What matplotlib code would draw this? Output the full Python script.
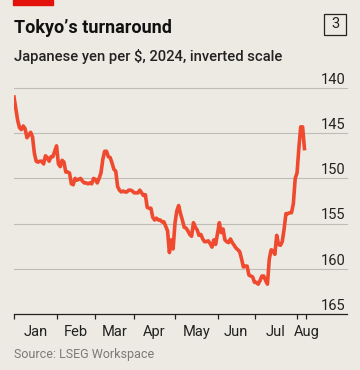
import matplotlib
matplotlib.use("Agg")
import matplotlib.pyplot as plt
from matplotlib.patches import Rectangle
import numpy as np
import pandas as pd

# Yen per dollar, business-day closes
jan = [141.0, 142.3, 143.6, 144.4, 144.6, 144.2, 144.5, 145.5, 145.2, 144.9,
       145.4, 147.2, 148.1, 148.2, 148.1, 148.1, 148.4, 147.5, 147.7, 148.1,
       147.6, 147.6, 147.0]
feb = [146.4, 148.4, 148.7, 148.0, 148.2, 149.3, 149.3, 149.4, 150.6, 150.7,
       150.0, 150.2, 150.1, 150.0, 150.3, 150.5, 150.5, 150.6, 150.5, 150.6,
       150.0]
mar = [150.1, 150.5, 150.0, 149.4, 147.9, 147.0, 147.0, 147.6, 147.7, 148.3,
       149.0, 149.2, 150.9, 151.3, 151.5, 151.4, 151.5, 151.5, 151.3, 151.3,
       151.4]
apr = [151.6, 151.6, 151.6, 151.3, 151.6, 151.9, 151.8, 153.2, 153.3, 153.3,
       154.3, 154.6, 154.4, 154.6, 154.6, 154.8, 154.8, 155.3, 155.8, 158.2,
       156.8, 157.8]
may = [155.0, 153.6, 153.0, 153.9, 154.6, 155.4, 155.5, 155.8, 156.2, 156.4,
       154.9, 155.4, 155.7, 156.3, 156.2, 156.7, 157.0, 157.0, 156.9, 157.2,
       157.6, 156.8, 157.3]
jun = [156.1, 154.9, 156.0, 155.6, 156.8, 157.0, 157.1, 156.7, 157.1, 157.4,
       157.7, 157.9, 158.1, 158.9, 159.8, 159.7, 159.7, 160.7, 160.8, 160.9]
jul = [161.5, 161.5, 161.7, 161.3, 160.8, 160.8, 161.3, 161.7, 158.9, 157.9,
       158.0, 158.4, 156.3, 157.3, 157.4, 157.0, 155.6, 153.9, 153.9, 153.8,
       153.8, 152.8, 150.0]
aug = [149.4, 146.6, 144.3, 144.3, 146.7]

yen = jan + feb + mar + apr + may + jun + jul + aug
dates = pd.bdate_range("2024-01-01", "2024-08-07")
months = ["Jan", "Feb", "Mar", "Apr", "May", "Jun", "Jul", "Aug"]
y_ticks = [140, 145, 150, 155, 160, 165]

BG = "#ECEAE2"
RED = "#EF4A2F"

plt.rcParams["font.family"] = ["Roboto", "DejaVu Sans"]

fig = plt.figure(figsize=(3.6, 3.7), dpi=100, facecolor=BG)
ax = fig.add_axes([14 / 360, 1 - 314 / 370, 333 / 360, 226 / 370])
ax.set_facecolor(BG)

x = np.arange(len(dates))
ax.plot(x, yen, color=RED, lw=2.6, solid_joinstyle="round", zorder=3)

ax.set_xlim(0, 180)
ax.set_ylim(165, 140)

# gridlines + labels sitting on them
for v in y_ticks[:-1]:
    ax.axhline(v, color="#BEBDB5", lw=0.8, zorder=1, clip_on=False)
for v in y_ticks:
    ax.annotate(str(v), xy=(1, v), xycoords=("axes fraction", "data"),
                xytext=(-1, 3), textcoords="offset points",
                ha="right", va="baseline", fontsize=10.5, color="#222222")

# month boundaries as ticks, names centred between them
starts = [0] + [i for i in range(1, len(dates)) if dates[i].month != dates[i - 1].month]
ends = starts[1:] + [len(dates)]
ax.set_xticks(starts + [len(dates)])
ax.set_xticklabels([])
ax.set_yticks([])
ax.tick_params(axis="x", direction="out", length=3.5, width=0.9, color="#222222")
for name, s, e in zip(months, starts, ends):
    pos = (s + e) / 2 if name != "Aug" else e
    ax.text(pos, -0.097, name, transform=ax.get_xaxis_transform(),
            ha="center", va="baseline", fontsize=10.5, color="#222222")

for side in ["top", "left", "right"]:
    ax.spines[side].set_visible(False)
ax.spines["bottom"].set_color("#222222")
ax.spines["bottom"].set_linewidth(0.9)

# header
fig.patches.append(Rectangle((13 / 360, 1 - 5 / 370), 40 / 360, 5 / 370,
                             transform=fig.transFigure, color="#E3120B"))
fig.text(14 / 360, 1 - 33 / 370, "Tokyo\u2019s turnaround", fontsize=13,
         fontweight="bold", color="#111111", va="baseline")
fig.text(14 / 360, 1 - 61 / 370, "Japanese yen per $, 2024, inverted scale",
         fontsize=10.6, fontweight="medium", color="#222222", va="baseline")
fig.patches.append(Rectangle((324 / 360, 1 - 35 / 370), 22 / 360, 21 / 370,
                             transform=fig.transFigure, fill=False,
                             ec="#222222", lw=0.9))
fig.text(335 / 360, 1 - 24.5 / 370, "3", fontsize=10.5, ha="center",
         va="center", color="#222222")
fig.text(14 / 360, 1 - 358 / 370, "Source: LSEG Workspace", fontsize=9,
         color="#7A7A7A", va="baseline")

fig.savefig("out.png", dpi=100, facecolor=BG)
